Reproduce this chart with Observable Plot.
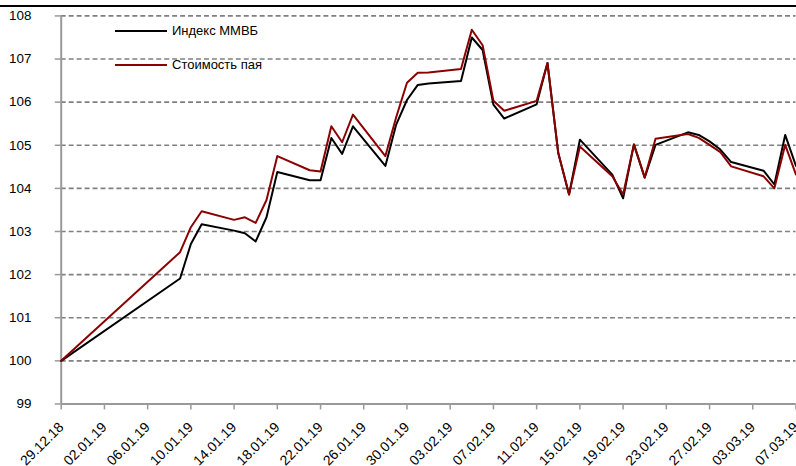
<!DOCTYPE html>
<html><head><meta charset="utf-8">
<script src="https://cdn.jsdelivr.net/npm/d3@7"></script>
<script src="https://cdn.jsdelivr.net/npm/@observablehq/plot@0.6"></script>
<style>
html,body{margin:0;padding:0;background:#fff;overflow:hidden;width:796px;height:466px;}
#wrap{position:relative;width:796px;height:466px;overflow:hidden;font-family:"Liberation Sans",Arial,sans-serif;}
#topbar{position:absolute;left:0;top:5px;width:796px;height:2px;background:#000;}
.leg{position:absolute;left:115px;display:flex;align-items:center;font-size:13px;color:#000;}
.leg span.sw{display:inline-block;width:52px;height:0;border-top:2px solid;margin-right:5px;}
</style></head>
<body><div id="wrap"><div id="chart"></div><div id="topbar"></div><div id="legend"></div></div>
<script>
const dates = ["2018-12-29","2019-01-09","2019-01-10","2019-01-11","2019-01-14","2019-01-15","2019-01-16","2019-01-17","2019-01-18","2019-01-21","2019-01-22","2019-01-23","2019-01-24","2019-01-25","2019-01-28","2019-01-29","2019-01-30","2019-01-31","2019-02-01","2019-02-04","2019-02-05","2019-02-06","2019-02-07","2019-02-08","2019-02-11","2019-02-12","2019-02-13","2019-02-14","2019-02-15","2019-02-18","2019-02-19","2019-02-20","2019-02-21","2019-02-22","2019-02-25","2019-02-26","2019-02-27","2019-02-28","2019-03-01","2019-03-04","2019-03-05","2019-03-06","2019-03-07"];
const micex = [100,101.91,102.71,103.17,103.02,102.96,102.77,103.33,104.38,104.19,104.19,105.17,104.80,105.44,104.52,105.48,106.05,106.40,106.43,106.49,107.50,107.21,105.94,105.62,105.95,106.91,104.82,103.86,105.13,104.32,103.77,105.02,104.25,105.01,105.30,105.24,105.09,104.90,104.61,104.41,104.09,105.24,104.52];
const unitValue = [100,102.52,103.10,103.47,103.27,103.33,103.20,103.73,104.75,104.42,104.39,105.44,105.07,105.71,104.75,105.65,106.45,106.68,106.69,106.77,107.68,107.32,106.03,105.80,106.03,106.91,104.82,103.86,104.97,104.28,103.86,105.02,104.25,105.15,105.26,105.17,105.01,104.84,104.51,104.28,104.00,105.01,104.32];
const seriesNames = ["Индекс ММВБ","Стоимость пая"];
const seriesColors = ["#000000","#8b0000"];
const yTicks = [99,100,101,102,103,104,105,106,107,108];
const xTickLabels = ["29.12.18","02.01.19","06.01.19","10.01.19","14.01.19","18.01.19","22.01.19","26.01.19","30.01.19","03.02.19","07.02.19","11.02.19","15.02.19","19.02.19","23.02.19","27.02.19","03.03.19","07.03.19"];

const parse = d3.utcParse("%Y-%m-%d");
const parseTick = d3.utcParse("%d.%m.%y");
const fmt = d3.utcFormat("%d.%m.%y");
const xTicks = xTickLabels.map(parseTick);
const rows = [];
[micex, unitValue].forEach((vals, si) => {
  vals.forEach((v, i) => rows.push({date: parse(dates[i]), value: v, series: seriesNames[si]}));
});

const chart = Plot.plot({
  width: 800, height: 466,
  marginLeft: 61, marginRight: 0.5, marginTop: 15.5, marginBottom: 60.5,
  style: {fontFamily: '"Liberation Sans", Arial, sans-serif', fontSize: "13px", color: "#000", background: "#fff", overflow: "visible"},
  x: {type: "utc", domain: [xTicks[0], xTicks[xTicks.length-1]]},
  y: {domain: [99, 108]},
  color: {domain: seriesNames, range: seriesColors},
  marks: [
    Plot.gridY(yTicks.filter(t => t > 99), {stroke: "#808080", strokeOpacity: 1, strokeWidth: 1.6, strokeDasharray: "5,3"}),
    Plot.axisY(yTicks, {tickSize: 6, tickPadding: 24, stroke: "#999", strokeWidth: 1.5, fontSize: 13.5, fill: "#000", label: null}),
    Plot.axisX(xTicks, {tickSize: 6, tickPadding: 15, tickRotate: -45, stroke: "#999", strokeWidth: 1.5, fontSize: 14, fill: "#000", tickFormat: fmt, label: null}),
    Plot.ruleX([xTicks[0]], {stroke: "#999", strokeWidth: 2}),
    Plot.ruleY([99], {stroke: "#999", strokeWidth: 2}),
    Plot.line(rows.filter(r => r.series === seriesNames[0]), {x: "date", y: "value", stroke: seriesColors[0], strokeWidth: 2}),
    Plot.line(rows.filter(r => r.series === seriesNames[1]), {x: "date", y: "value", stroke: seriesColors[1], strokeWidth: 2})
  ]
});
document.getElementById("chart").appendChild(chart);

const legend = document.getElementById("legend");
const legTops = [23, 57];
seriesNames.forEach((n, i) => {
  const d = document.createElement("div");
  d.className = "leg";
  d.style.top = legTops[i] + "px";
  d.innerHTML = `<span class="sw" style="border-color:${seriesColors[i]}"></span><span>${n}</span>`;
  legend.appendChild(d);
});
</script>
</body></html>
